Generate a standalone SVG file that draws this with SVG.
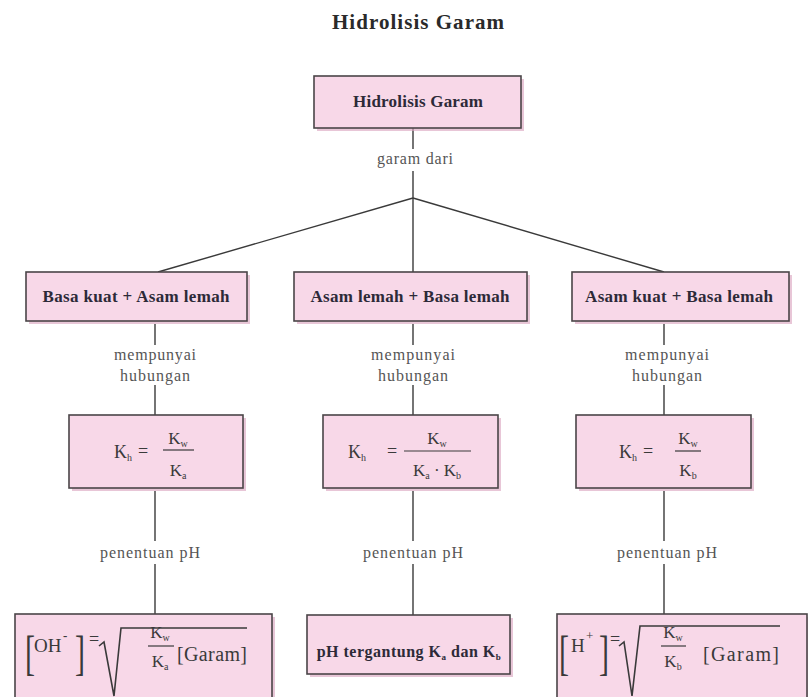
<svg xmlns="http://www.w3.org/2000/svg" width="808" height="697" viewBox="0 0 808 697">
<style>
.box{fill:#f8d8e8;stroke:#4a4548;stroke-width:1.6}
.sh{fill:#dca7c2;opacity:0.65}
.conn{stroke:#3a3a3a;stroke-width:1.4;fill:none}
.lbl{font-family:"Liberation Serif",serif;font-weight:bold;font-size:17px;fill:#2d2a38;text-anchor:middle}
.el{font-family:"Liberation Serif",serif;font-size:16px;fill:#555;text-anchor:middle}
.m{font-family:"Liberation Serif",serif;font-size:18px;fill:#3a3a3a}
.mc{font-family:"Liberation Serif",serif;font-size:17px;fill:#3a3a3a;text-anchor:middle}
.sub{font-size:10px}
.br{font-family:"Liberation Serif",serif;font-size:30px;fill:#3a3a3a}
.big{font-family:"Liberation Serif",serif;font-size:20px;fill:#3a3a3a}
.sup{font-family:"Liberation Serif",serif;font-size:13px;fill:#3a3a3a;font-weight:bold}
.frac{stroke:#3a3a3a;stroke-width:1.2}
.rad{stroke:#3a3a3a;stroke-width:1.6;fill:none;stroke-linejoin:miter}
</style>
<rect width="808" height="697" fill="#ffffff"/>
<text x="418" y="29" style="font-family:'Liberation Serif',serif;font-weight:bold;font-size:21px;fill:#2a2a2a" text-anchor="middle" textLength="172" lengthAdjust="spacing">Hidrolisis Garam</text>

<g id="connectors">
<line class="conn" x1="413" y1="128" x2="413" y2="149"/>
<line class="conn" x1="413" y1="171" x2="413" y2="198"/>
<line class="conn" x1="413" y1="198" x2="158" y2="272"/>
<line class="conn" x1="413" y1="198" x2="413" y2="272"/>
<line class="conn" x1="413" y1="198" x2="664" y2="272"/>
<line class="conn" x1="155" y1="324" x2="155" y2="345"/>
<line class="conn" x1="155" y1="385" x2="155" y2="415"/>
<line class="conn" x1="413" y1="324" x2="413" y2="345"/>
<line class="conn" x1="413" y1="385" x2="413" y2="415"/>
<line class="conn" x1="664" y1="324" x2="664" y2="345"/>
<line class="conn" x1="664" y1="385" x2="664" y2="415"/>
<line class="conn" x1="155" y1="491" x2="155" y2="541"/>
<line class="conn" x1="155" y1="564" x2="155" y2="614"/>
<line class="conn" x1="413" y1="491" x2="413" y2="541"/>
<line class="conn" x1="413" y1="564" x2="413" y2="615"/>
<line class="conn" x1="664" y1="491" x2="664" y2="541"/>
<line class="conn" x1="664" y1="564" x2="664" y2="614"/>
<text class="el" x="415" y="164" textLength="76" lengthAdjust="spacing">garam dari</text>
<text class="el" x="155" y="360" textLength="82" lengthAdjust="spacing">mempunyai</text>
<text class="el" x="155" y="381" textLength="70" lengthAdjust="spacing">hubungan</text>
<text class="el" x="413" y="360" textLength="84" lengthAdjust="spacing">mempunyai</text>
<text class="el" x="413" y="381" textLength="70" lengthAdjust="spacing">hubungan</text>
<text class="el" x="667" y="360" textLength="84" lengthAdjust="spacing">mempunyai</text>
<text class="el" x="667" y="381" textLength="70" lengthAdjust="spacing">hubungan</text>
<text class="el" x="150" y="558" textLength="100" lengthAdjust="spacing">penentuan pH</text>
<text class="el" x="413" y="558" textLength="100" lengthAdjust="spacing">penentuan pH</text>
<text class="el" x="667" y="558" textLength="100" lengthAdjust="spacing">penentuan pH</text>
</g>

<g id="n-root">
<rect class="sh" x="317" y="79" width="207" height="52"/>
<rect class="box" x="314" y="76" width="207" height="52"/>
<text class="lbl" x="418" y="107" textLength="130" lengthAdjust="spacing">Hidrolisis Garam</text>
</g>

<g id="n-basa-kuat">
<rect class="sh" x="29" y="275" width="221" height="49"/>
<rect class="box" x="26" y="272" width="221" height="49"/>
<text class="lbl" x="136" y="302" textLength="187" lengthAdjust="spacing">Basa kuat + Asam lemah</text>
</g>
<g id="n-asam-lemah">
<rect class="sh" x="297" y="275" width="233" height="49"/>
<rect class="box" x="294" y="272" width="233" height="49"/>
<text class="lbl" x="410" y="302" textLength="199" lengthAdjust="spacing">Asam lemah + Basa lemah</text>
</g>
<g id="n-asam-kuat">
<rect class="sh" x="575" y="275" width="217" height="49"/>
<rect class="box" x="572" y="272" width="217" height="49"/>
<text class="lbl" x="679" y="302" textLength="188" lengthAdjust="spacing">Asam kuat + Basa lemah</text>
</g>

<g id="n-kh1">
<rect class="sh" x="72" y="418" width="174" height="73"/>
<rect class="box" x="69" y="415" width="174" height="73"/>
<text class="m" x="114" y="458">K<tspan class="sub" dy="3">h</tspan></text>
<text class="m" x="138" y="457">=</text>
<text class="mc" x="178" y="444">K<tspan class="sub" dy="3">w</tspan></text>
<line class="frac" x1="163" y1="450" x2="194" y2="450"/>
<text class="mc" x="178" y="476">K<tspan class="sub" dy="3">a</tspan></text>
</g>
<g id="n-kh2">
<rect class="sh" x="326" y="418" width="175" height="73"/>
<rect class="box" x="323" y="415" width="175" height="73"/>
<text class="m" x="348" y="458">K<tspan class="sub" dy="3">h</tspan></text>
<text class="m" x="387" y="457">=</text>
<text class="mc" x="437" y="444">K<tspan class="sub" dy="3">w</tspan></text>
<line class="frac" x1="404" y1="451" x2="471" y2="451"/>
<text class="mc" x="437" y="476">K<tspan class="sub" dy="3">a</tspan><tspan dy="-3"> · K</tspan><tspan class="sub" dy="3">b</tspan></text>
</g>
<g id="n-kh3">
<rect class="sh" x="579" y="418" width="175" height="73"/>
<rect class="box" x="576" y="415" width="175" height="73"/>
<text class="m" x="619" y="458">K<tspan class="sub" dy="3">h</tspan></text>
<text class="m" x="643" y="457">=</text>
<text class="mc" x="688" y="444">K<tspan class="sub" dy="3">w</tspan></text>
<line class="frac" x1="675" y1="451" x2="701" y2="451"/>
<text class="mc" x="688" y="476">K<tspan class="sub" dy="3">b</tspan></text>
</g>

<g id="n-oh">
<rect class="sh" x="18" y="617" width="257" height="90"/>
<rect class="box" x="15" y="614" width="257" height="90"/>
<text class="br" transform="translate(25,669) scale(1,1.6)">[</text>
<text class="m" x="34" y="652" style="font-size:19px">OH</text>
<text class="sup" x="63" y="640">-</text>
<text class="br" transform="translate(75,669) scale(1,1.6)">]</text>
<text class="m" x="89" y="645">=</text>
<polyline class="rad" points="99,646 104,642 114,696 121,628 247,628"/>
<text class="mc" x="160" y="638">K<tspan class="sub" dy="3">w</tspan></text>
<line class="frac" x1="148" y1="646" x2="174" y2="646"/>
<text class="mc" x="160" y="667">K<tspan class="sub" dy="3">a</tspan></text>
<text class="big" x="177" y="661" textLength="70" lengthAdjust="spacing">[Garam]</text>
</g>
<g id="n-ph">
<rect class="sh" x="310" y="618" width="203" height="59"/>
<rect class="box" x="307" y="615" width="203" height="59"/>
<text class="lbl" x="409" y="657" style="font-size:16px" letter-spacing="0.5">pH tergantung K<tspan style="font-size:9px" dy="3">a</tspan><tspan dy="-3"> dan K</tspan><tspan style="font-size:9px" dy="3">b</tspan></text>
</g>
<g id="n-h">
<rect class="sh" x="560" y="617" width="250" height="90"/>
<rect class="box" x="557" y="614" width="250" height="90"/>
<text class="br" transform="translate(559,669) scale(1,1.6)">[</text>
<text class="m" x="571" y="652" style="font-size:19px">H</text>
<text class="sup" x="586" y="640" style="font-weight:normal">+</text>
<text class="br" transform="translate(599,669) scale(1,1.6)">]</text>
<text class="m" x="610" y="645">=</text>
<polyline class="rad" points="619,646 624,642 632,696 640,626 780,626"/>
<text class="mc" x="673" y="638">K<tspan class="sub" dy="3">w</tspan></text>
<line class="frac" x1="661" y1="646" x2="686" y2="646"/>
<text class="mc" x="673" y="667">K<tspan class="sub" dy="3">b</tspan></text>
<text class="big" x="703" y="661" textLength="76" lengthAdjust="spacing">[Garam]</text>
</g>
</svg>
